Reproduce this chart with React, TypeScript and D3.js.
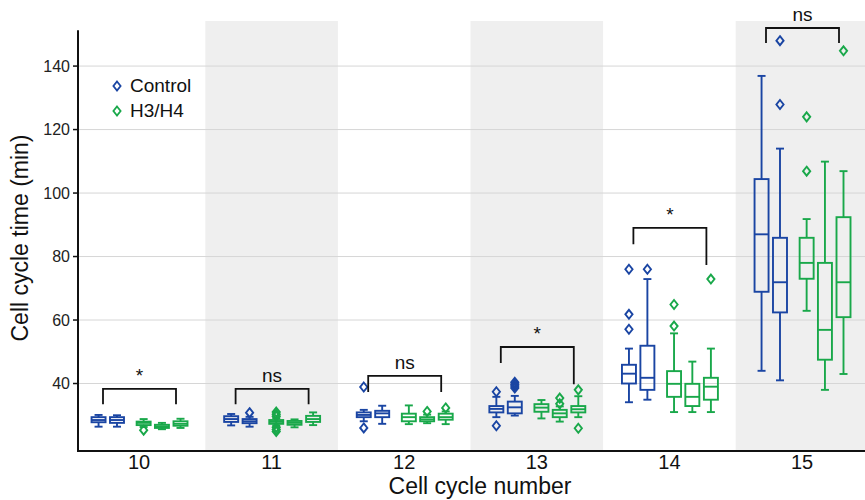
import React from 'react';
import * as d3 from 'd3';

// cell cycle numbers on the x axis
const cycles = ['10', '11', '12', '13', '14', '15'];
const yTicks = [40, 60, 80, 100, 120, 140];

// box stats per cycle: [low whisker, q1, median, q3, high whisker]
const control1 = [
    [26.4, 27.8, 28.5, 29.4, 30.1],
    [26.8, 27.9, 28.8, 29.7, 30.4],
    [28.1, 29.4, 30.1, 30.9, 31.7],
    [29.4, 30.9, 32.0, 32.9, 35.8],
    [34.1, 40.0, 43.1, 45.9, 51.0],
    [44.0, 68.9, 87.0, 104.4, 136.9]
];
const control2 = [
    [26.4, 27.6, 28.5, 29.4, 30.0],
    [26.4, 27.5, 28.1, 28.8, 29.5],
    [27.3, 29.4, 30.6, 31.4, 33.0],
    [29.9, 30.6, 32.5, 34.3, 36.1],
    [34.9, 38.0, 41.8, 51.9, 72.9],
    [41.0, 62.4, 71.9, 85.9, 114.0]
];
const h3h4a = [
    [26.3, 26.9, 27.6, 28.0, 28.8],
    [26.8, 27.3, 27.9, 28.5, 29.1],
    [27.2, 28.1, 29.4, 30.5, 33.1],
    [29.0, 31.1, 32.4, 33.5, 34.8],
    [31.0, 35.8, 39.9, 43.9, 55.8],
    [62.9, 73.0, 78.0, 85.9, 91.8]
];
const h3h4b = [
    [25.6, 26.0, 26.5, 27.0, 27.6],
    [26.2, 27.0, 27.6, 28.2, 28.7],
    [27.5, 28.1, 28.7, 29.4, 30.2],
    [28.0, 29.4, 30.6, 31.7, 32.8],
    [31.0, 32.9, 35.8, 39.9, 46.9],
    [38.0, 47.5, 56.9, 78.0, 109.9]
];
const h3h4c = [
    [26.0, 26.7, 27.3, 28.1, 28.9],
    [26.9, 27.9, 28.8, 29.8, 30.9],
    [27.2, 28.6, 29.4, 30.5, 31.2],
    [29.4, 30.9, 31.9, 32.9, 36.0],
    [31.0, 34.9, 39.0, 41.8, 51.0],
    [43.0, 60.9, 71.9, 92.4, 106.9]
];

// outliers per cycle
const control1Out = [[], [], [38.9, 26.0], [37.4, 26.7], [76.0, 61.8, 57.1], []];
const control2Out = [[], [30.8], [], [40.4, 39.8, 39.2, 38.6], [76.0], [148.0, 127.9]];
const h3h4aOut = [[25.3], [31.0, 30.3, 29.7, 26.2, 25.5, 24.9], [], [], [64.9, 58.1], [124.0, 106.9]];
const h3h4bOut = [[], [], [31.2], [35.4, 33.6], [], []];
const h3h4cOut = [[], [], [32.3], [38.0, 25.9], [72.9], [144.8]];

// significance brackets: top, left end, right end (min)
const sigLabels = ['*', 'ns', 'ns', '*', '*', 'ns'];
const bracketTop = [38.3, 38.3, 42.4, 51.5, 89.0, 152.0];
const bracketLeft = [33.5, 33.5, 37.3, 46.5, 83.9, 147.3];
const bracketRight = [33.5, 33.5, 37.3, 39.8, 77.3, 147.3];

const BLUE = '#1a45a3';
const GREEN = '#19a84a';
const FONT = '"Liberation Sans", Arial, sans-serif';

const series = [
    { stats: control1, out: control1Out, color: BLUE, offset: -0.305 },
    { stats: control2, out: control2Out, color: BLUE, offset: -0.166 },
    { stats: h3h4a, out: h3h4aOut, color: GREEN, offset: 0.035 },
    { stats: h3h4b, out: h3h4bOut, color: GREEN, offset: 0.173 },
    { stats: h3h4c, out: h3h4cOut, color: GREEN, offset: 0.313 }
];

const W = 865;
const H = 500;
const plotLeft = 78;
const plotRight = 865;
const plotBottom = 451;

const diamond = (cx: number, cy: number) =>
    `M${cx},${cy - 4.5}L${cx + 3.6},${cy}L${cx},${cy + 4.5}L${cx - 3.6},${cy}Z`;

export default function App() {
    const x = d3.scaleBand<string>().domain(cycles).range([72.7, 868.3]).paddingInner(0).paddingOuter(0);
    const y = d3.scaleLinear().domain([18.74, 154.2]).range([plotBottom, 21]);
    const bw = x.bandwidth();
    const center = (c: string) => (x(c) as number) + bw / 2;
    const boxW = 14;
    const capW = 8;

    return (
        <svg width={W} height={H} style={{ position: 'absolute', left: 0, top: 0, fontFamily: FONT }}>
            <defs>
                <clipPath id="plot-clip">
                    <rect x={plotLeft} y={0} width={plotRight - plotLeft} height={plotBottom} />
                </clipPath>
            </defs>

            {/* alternating shaded bands */}
            <g clipPath="url(#plot-clip)">
                {cycles.map((c, i) => i % 2 === 1 ? (
                    <rect key={c} x={x(c)} y={y(154.2)} width={bw} height={plotBottom - y(154.2)} fill="#efefef" />
                ) : null)}
            </g>

            {/* grid */}
            {yTicks.map(t => (
                <line key={t} x1={plotLeft} x2={plotRight} y1={y(t)} y2={y(t)} stroke="#d6d6d6" strokeWidth={1} />
            ))}

            {/* boxes */}
            {series.map((s, si) => (
                <g key={si} stroke={s.color} strokeWidth={1.9} fill="none">
                    {cycles.map((c, ci) => {
                        const [lo, q1, med, q3, hi] = s.stats[ci];
                        const cx = center(c) + s.offset * bw;
                        return (
                            <g key={c}>
                                <line x1={cx} x2={cx} y1={y(hi)} y2={y(q3)} />
                                <line x1={cx} x2={cx} y1={y(q1)} y2={y(lo)} />
                                <line x1={cx - capW / 2} x2={cx + capW / 2} y1={y(hi)} y2={y(hi)} />
                                <line x1={cx - capW / 2} x2={cx + capW / 2} y1={y(lo)} y2={y(lo)} />
                                <rect x={cx - boxW / 2} y={y(q3)} width={boxW} height={y(q1) - y(q3)} />
                                <line x1={cx - boxW / 2} x2={cx + boxW / 2} y1={y(med)} y2={y(med)} />
                                {s.out[ci].map((o, oi) => (
                                    <path key={oi} d={diamond(cx, y(o))} />
                                ))}
                            </g>
                        );
                    })}
                </g>
            ))}

            {/* significance brackets */}
            {cycles.map((c, i) => {
                const x0 = center(c) - 36;
                const x1 = center(c) + 37;
                const top = y(bracketTop[i]);
                return (
                    <g key={c}>
                        <path
                            d={`M${x0},${y(bracketLeft[i])}V${top}H${x1}V${y(bracketRight[i])}`}
                            fill="none"
                            stroke="#111"
                            strokeWidth={1.8}
                        />
                        <text x={(x0 + x1) / 2} y={top - 7} textAnchor="middle" fontSize={19} fill="#111">
                            {sigLabels[i]}
                        </text>
                    </g>
                );
            })}

            {/* axes */}
            <line x1={plotLeft} x2={plotLeft} y1={y(151.3)} y2={plotBottom + 1} stroke="#111" strokeWidth={2} />
            <line x1={plotLeft - 1} x2={plotRight} y1={plotBottom} y2={plotBottom} stroke="#111" strokeWidth={2} />
            {yTicks.map(t => (
                <g key={t}>
                    <line x1={plotLeft - 5} x2={plotLeft} y1={y(t)} y2={y(t)} stroke="#111" strokeWidth={1.5} />
                    <text x={plotLeft - 8} y={y(t)} dy="0.35em" textAnchor="end" fontSize={16} fill="#222">{t}</text>
                </g>
            ))}
            {cycles.map(c => (
                <text key={c} x={center(c)} y={469} textAnchor="middle" fontSize={20} fill="#111">{c}</text>
            ))}

            <text x={480} y={494} textAnchor="middle" fontSize={23} fill="#111">Cell cycle number</text>
            <text transform="translate(28,238) rotate(-90)" textAnchor="middle" fontSize={23} fill="#111">
                Cell cycle time (min)
            </text>

            {/* legend */}
            {[['Control', BLUE], ['H3/H4', GREEN]].map(([name, col], i) => (
                <g key={name}>
                    <path d={diamond(117, 86 + i * 25)} fill="none" stroke={col} strokeWidth={1.8} />
                    <text x={130} y={92 + i * 25} fontSize={19} fill="#111">{name}</text>
                </g>
            ))}
        </svg>
    );
}
